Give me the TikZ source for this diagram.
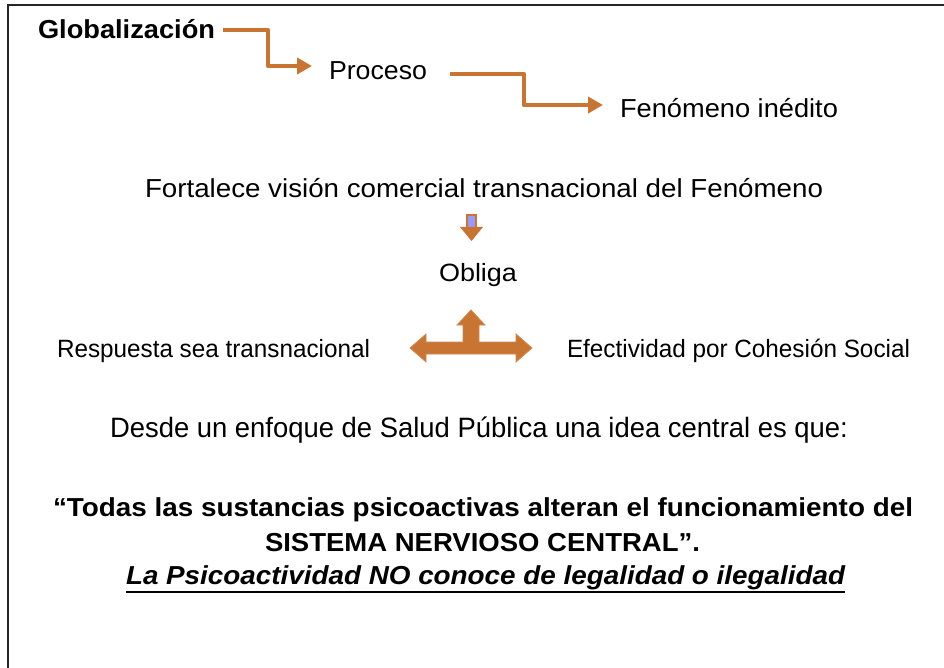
\documentclass[tikz,border=0pt]{standalone}
\usepackage{fontspec}
\setmainfont{Liberation Sans}
\usepackage{graphicx}
\usetikzlibrary{arrows.meta}
\definecolor{orng}{HTML}{C87533}
\definecolor{lav}{HTML}{9999FF}
\newcommand{\fitw}[2]{\resizebox{#1pt}{\height}{#2}}
\begin{document}
\begin{tikzpicture}[x=1pt,y=-1pt,
  txt/.style={anchor=base west,inner sep=0pt,outer sep=0pt,text=black},
  elbow/.style={draw=orng,line width=4.2pt,line join=round,-{Triangle[length=15pt,width=16pt]}},
  blockarrow/.style={fill=orng,draw=orng!85!white,line width=0.8pt,line join=miter}]
\useasboundingbox (0,0) rectangle (944,668);
\fill[white] (0,0) rectangle (944,668);
% frame
\draw[line width=2pt,black!85] (8,668) -- (8,5) -- (944,5);

% texts
\node[txt,font=\bfseries\fontsize{26}{30}\selectfont] (glob) at (38,39) {\fitw{177}{Globalización}};
\node[txt,font=\fontsize{26}{30}\selectfont] (proc) at (329,80) {\fitw{98}{Proceso}};
\node[txt,font=\fontsize{26}{30}\selectfont] (fen) at (620,118) {\fitw{218}{Fenómeno inédito}};
\node[txt,font=\fontsize{26}{30}\selectfont] (fort) at (145,198) {\fitw{678}{Fortalece visión comercial transnacional del Fenómeno}};
\node[txt,font=\fontsize{25}{30}\selectfont] (obl) at (439,281) {\fitw{78}{Obliga}};
\node[txt,font=\fontsize{25}{28}\selectfont] (resp) at (57,357) {\fitw{313}{Respuesta sea transnacional}};
\node[txt,font=\fontsize{25}{28}\selectfont] (efec) at (567,357) {\fitw{343}{Efectividad por Cohesión Social}};
\node[txt,font=\fontsize{28}{32}\selectfont] (desde) at (110,437) {\fitw{738}{Desde un enfoque de Salud Pública una idea central es que:}};
\node[txt,font=\bfseries\fontsize{26}{30}\selectfont] (todas) at (53,516) {\fitw{860}{“Todas las sustancias psicoactivas alteran el funcionamiento del}};
\node[txt,font=\bfseries\fontsize{26}{30}\selectfont] (sist) at (265,551) {\fitw{435}{SISTEMA NERVIOSO CENTRAL”.}};
\node[txt,font=\bfseries\itshape\fontsize{26}{30}\selectfont] (la) at (126,584) {\fitw{719}{La Psicoactividad NO conoce de legalidad o ilegalidad}};
\draw[line width=2pt,black] ([yshift=-8pt]la.base west) -- ([yshift=-8pt]la.base east);

% elbow connectors
\draw[elbow] ([shift={(8,-9)}]glob.base east) -- (268,30) -- (268,66) -- ([shift={(-17,-14)}]proc.base west);
\draw[elbow] ([shift={(23,-6)}]proc.base east) -- (524,74) -- (524,105) -- ([shift={(-17,-13)}]fen.base west);

% small down arrow between Fortalece and Obliga
\filldraw[fill=lav,draw=orng,line width=2pt] (467,215) rectangle (476,228);
\fill[orng] (460,227) -- (483,227) -- (471.5,241) -- cycle;

% T-shaped block arrow
\path[blockarrow] (410,348) -- (426,334) -- (426,342) -- (463,342) -- (463,325) -- (457,325)
  -- (471,310) -- (485,325) -- (479,325) -- (479,342) -- (516,342) -- (516,334)
  -- (532,348) -- (516,362) -- (516,354) -- (426,354) -- (426,362) -- cycle;
\end{tikzpicture}
\end{document}
